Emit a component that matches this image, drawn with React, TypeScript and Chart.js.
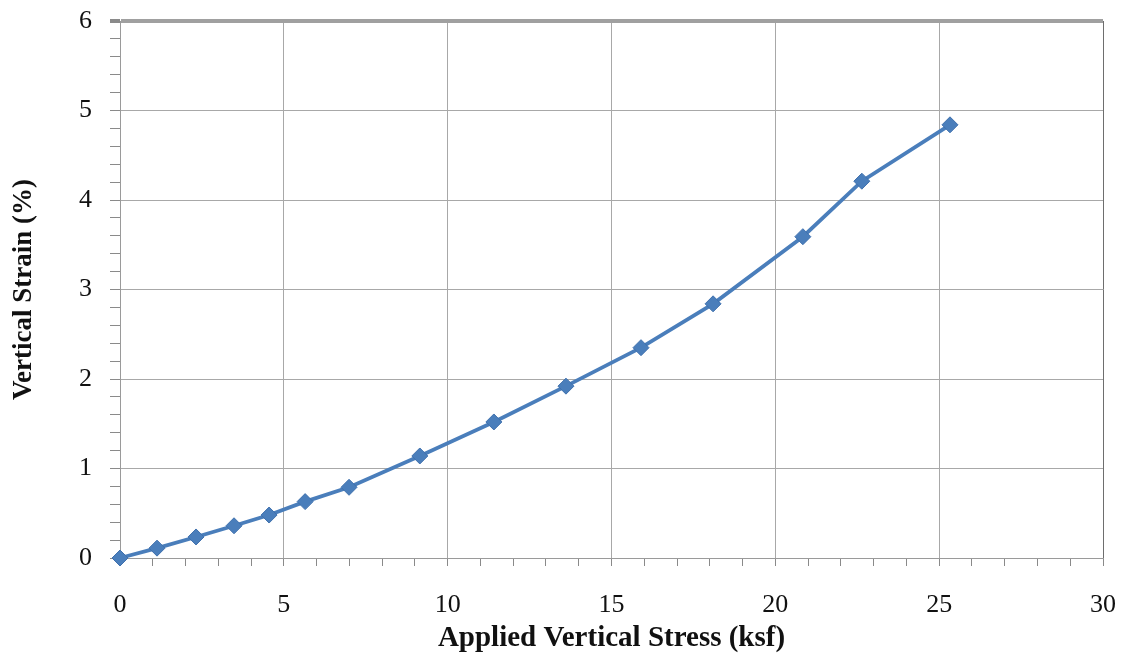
import React, { useEffect, useRef } from 'react';
import { Chart, registerables } from 'chart.js';

Chart.register(...registerables);

// Applied vertical stress (ksf)
const stress = [0, 1.13, 2.32, 3.48, 4.55, 5.65, 6.99, 9.15, 11.41, 13.61, 15.9, 18.1, 20.84, 22.64, 25.33];
// Vertical strain (%)
const strain = [0, 0.11, 0.235, 0.36, 0.48, 0.63, 0.79, 1.14, 1.52, 1.92, 2.35, 2.84, 3.59, 4.21, 4.84];

const xTickLabels = [0, 5, 10, 15, 20, 25, 30];
const yTickLabels = [0, 1, 2, 3, 4, 5, 6];

const SERIF = '"Liberation Serif", "Times New Roman", serif';

const isMajor = (v: number, list: number[]) => list.some((t) => Math.abs(t - v) < 1e-6);

export default function App() {
  const ref = useRef<HTMLCanvasElement | null>(null);

  useEffect(() => {
    document.body.style.margin = '0';
    const canvas = ref.current;
    if (!canvas) return;
    const chart = new Chart(canvas, {
      type: 'line',
      data: {
        datasets: [
          {
            data: stress.map((x, i) => ({ x, y: strain[i] })),
            borderColor: '#4A7EBB',
            backgroundColor: '#4A7EBB',
            borderWidth: 3.8,
            pointStyle: 'rectRot',
            pointRadius: 8,
            pointBorderWidth: 1,
            pointBorderColor: '#3F70AD',
            pointBackgroundColor: '#4A7EBB',
            tension: 0,
            clip: false,
          },
        ],
      },
      options: {
        responsive: false,
        animation: false,
        devicePixelRatio: 1,
        layout: { padding: { top: 21, right: 20, left: 0, bottom: 0 } },
        plugins: { legend: { display: false }, tooltip: { enabled: false } },
        scales: {
          x: {
            type: 'linear',
            min: 0,
            max: 30,
            afterFit: (s: any) => {
              s.height = 96;
              s.paddingLeft = 0;
              s.paddingRight = 0;
            },
            ticks: {
              stepSize: 1,
              autoSkip: false,
              maxRotation: 0,
              padding: 24,
              color: '#111',
              font: { family: SERIF, size: 26 },
              callback: (v: any) => (isMajor(Number(v), xTickLabels) ? String(v) : ''),
            },
            grid: {
              color: (c: any) => {
                const v = c.tick ? c.tick.value : 0;
                if (Math.abs(v - 30) < 1e-6) return '#6e6e6e';
                return isMajor(v, xTickLabels) ? '#a8a8a8' : 'rgba(0,0,0,0)';
              },
              tickColor: '#8a8a8a',
              tickLength: 8,
              lineWidth: 1,
            },
            border: { color: '#9a9a9a', width: 1 },
            title: {
              display: true,
              text: 'Applied Vertical Stress (ksf)',
              color: '#111',
              font: { family: SERIF, size: 29, weight: 'bold' },
              padding: { top: 0, bottom: -2 },
            },
          },
          y: {
            type: 'linear',
            min: 0,
            max: 6,
            afterFit: (s: any) => {
              s.width = 120;
              s.paddingTop = 0;
              s.paddingBottom = 0;
            },
            ticks: {
              stepSize: 0.2,
              autoSkip: false,
              padding: 18,
              color: '#111',
              font: { family: SERIF, size: 26 },
              callback: (v: any) => {
                const n = Number(v);
                return isMajor(n, yTickLabels) ? String(Math.round(n)) : '';
              },
            },
            grid: {
              color: (c: any) => {
                const v = c.tick ? c.tick.value : 0;
                if (Math.abs(v - 6) < 1e-6) return '#a0a0a0';
                return isMajor(v, yTickLabels) ? '#a8a8a8' : 'rgba(0,0,0,0)';
              },
              lineWidth: (c: any) => {
                const v = c.tick ? c.tick.value : 0;
                return Math.abs(v - 6) < 1e-6 ? 4 : 1;
              },
              tickColor: '#8a8a8a',
              tickLength: 10,
            },
            border: { color: '#9a9a9a', width: 1 },
            title: {
              display: true,
              text: 'Vertical Strain (%)',
              color: '#111',
              font: { family: SERIF, size: 27, weight: 'bold' },
              padding: { top: 8, bottom: 0 },
            },
          },
        },
      },
    });
    return () => chart.destroy();
  }, []);

  return (
    <div style={{ width: 1123, height: 654, background: '#fff' }}>
      <canvas ref={ref} width={1123} height={654} style={{ display: 'block' }} />
    </div>
  );
}
